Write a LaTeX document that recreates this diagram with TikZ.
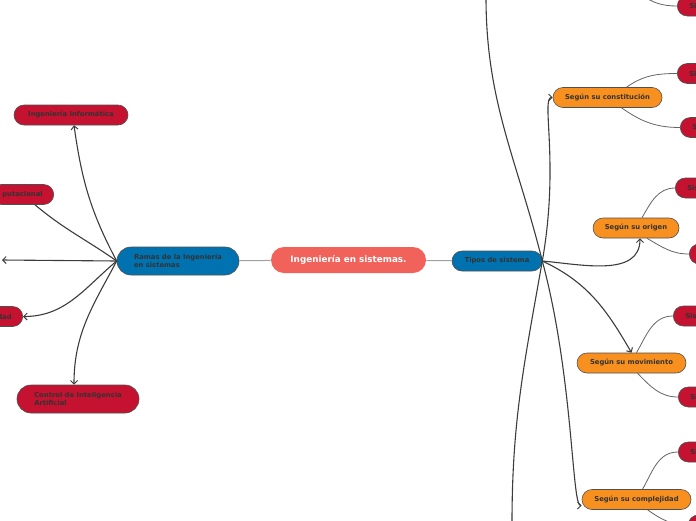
\documentclass[tikz,border=0pt]{standalone}
\usepackage{fontspec}
\setmainfont{DejaVu Sans}
\usepackage{xcolor}
\usepackage{tikz}
\usetikzlibrary{arrows.meta,positioning}
\definecolor{rootsalmon}{RGB}{240,98,90}
\definecolor{branchblue}{RGB}{0,114,176}
\definecolor{topicorange}{RGB}{247,144,30}
\definecolor{leafred}{RGB}{196,18,48}
\definecolor{edgegray}{RGB}{80,80,80}
\definecolor{labelgray}{RGB}{51,51,51}
\definecolor{wiregray}{RGB}{60,60,60}
\definecolor{twiggray}{RGB}{100,100,100}
\definecolor{trunkgray}{RGB}{160,160,160}
\tikzset{
 pill/.style={
 rectangle,
 draw=edgegray,
 line width=0.6pt,
 text=labelgray,
 inner sep=0pt,
 minimum height=20pt,
 rounded corners=10pt,
 font=\bfseries\fontsize{6.8}{8.4}\selectfont
 },
 rootbox/.style={
 pill,
 draw=none,
 fill=rootsalmon,
 text=white,
 minimum height=26pt,
 rounded corners=13pt,
 font=\bfseries\fontsize{8.8}{10}\selectfont
 },
 branchbox/.style={pill, fill=branchblue},
 topicbox/.style={pill, fill=topicorange},
 leafbox/.style={pill, fill=leafred},
 twoline/.style={align=left, minimum width=122pt, minimum height=28pt, rounded corners=14pt},
 stubwest/.style={leafbox, anchor=west, inner xsep=12pt},
 stubeast/.style={leafbox, anchor=east, inner xsep=11pt},
 hubarrow/.style={-{Straight Barb[length=3.5pt,width=7pt,line width=1pt]}, line width=1.1pt, draw=wiregray},
 hubline/.style={line width=1.1pt, draw=wiregray},
 twig/.style={line width=0.8pt, draw=twiggray},
 trunk/.style={line width=1pt, draw=trunkgray}
}
\begin{document}
\begin{tikzpicture}[x=1pt, y=-1pt]
 \useasboundingbox (0,0) rectangle (696,520);
 \clip (0,0) rectangle (696,520);

 \node[rootbox, minimum width=155pt] (root) at (348.5,260) {Ingeniería en sistemas.};
 \node[branchbox, minimum width=90pt] (tipos) at (497,261) {Tipos de sistema};
 \node[branchbox, twoline] (ramas) at (178,261) {Ramas de la Ingeniería\\en sistemas};

 % left side
 \node[leafbox, minimum width=114pt] (informatica) at (71,115) {Ingeniería Informática};
 \node[stubeast] (computacional) at (54,194.5) {putacional};
 \node[stubeast] (seguridad) at (23,316.5) {dad};
 \node[leafbox, twoline] (inteligencia) at (78,399) {Control de Inteligencia\\Artificial};
 \coordinate (westend) at (2,260);

 % right side
 \node[topicbox, minimum width=109pt] (constitucion) at (607.5,97.5) {Según su constitución};
 \node[topicbox, minimum width=86pt] (origen) at (636,228) {Según su origen};
 \node[topicbox, minimum width=109pt] (movimiento) at (631.5,363) {Según su movimiento};
 \node[topicbox, minimum width=109pt] (complejidad) at (636.5,499.5) {Según su complejidad};
 \coordinate (northend) at (486,-3);
 \coordinate (southend) at (512,523);
 \coordinate (twigend) at (640,-6);

 \node[stubwest] (sistA) at (677,6) {Si};
 \node[stubwest] (constA) at (677,73.5) {Si};
 \node[stubwest] (constB) at (680,127.5) {S};
 \node[stubwest] (origA) at (675,188) {Sis};
 \node[stubwest, minimum width=30pt] (origB) at (689,254) {};
 \node[stubwest] (movA) at (673,316) {Sis};
 \node[stubwest] (movB) at (678,397) {Si};
 \node[stubwest] (compA) at (678,452) {Si};
 \node[stubwest, minimum width=30pt] (compB) at (688,525) {};

 \draw[trunk] (root) -- (tipos);
 \draw[trunk] (root) -- (ramas);

 \draw[hubarrow] (ramas.west) to[out=118, in=-82] ([xshift=3pt]informatica.south);
 \draw[hubline] (ramas.west) to[out=145, in=-40] ([xshift=-19pt]computacional.south east);
 \draw[hubarrow] (ramas.west) -- (westend);
 \draw[hubarrow] (ramas.west) to[out=-140, in=0] (seguridad.east);
 \draw[hubarrow] (ramas.west) to[out=-118, in=90] ([xshift=-4pt]inteligencia.north);

 \draw[hubline] (tipos.east) to[out=104, in=-90] (northend);
 \draw[hubarrow] (tipos.east) to[out=80, in=180, out distance=100pt, in distance=12pt] (constitucion.west);
 \draw[hubarrow] (tipos.east) to[out=-5, in=-90] ([xshift=4pt]origen.south);
 \draw[hubarrow] (tipos.east) to[out=-25, in=120] (movimiento.north);
 \draw[hubarrow] (tipos.east) to[out=-75, in=180, out distance=120pt, in distance=10pt] ([yshift=-6pt]complejidad.west);
 \draw[hubline] (tipos.east) to[out=-100, in=90] (southend);

 \draw[twig] (twigend) to[out=-35, in=180] (sistA.west);
 \draw[twig] ([xshift=19pt]constitucion.north) to[out=35, in=180] (constA.west);
 \draw[twig] ([xshift=14pt]constitucion.south) to[out=-35, in=180] (constB.west);
 \draw[twig] ([xshift=6pt]origen.north) to[out=60, in=180] (origA.west);
 \draw[twig] ([xshift=11pt]origen.south) to[out=-30, in=180] (origB.west);
 \draw[twig] ([xshift=5pt]movimiento.north) to[out=60, in=180] (movA.west);
 \draw[twig] ([xshift=6pt]movimiento.south) to[out=-45, in=180] (movB.west);
 \draw[twig] ([xshift=6pt]complejidad.north) to[out=60, in=180] (compA.west);
 \draw[twig] ([xshift=11pt]complejidad.south) to[out=-35, in=180] (compB.west);
\end{tikzpicture}
\end{document}
